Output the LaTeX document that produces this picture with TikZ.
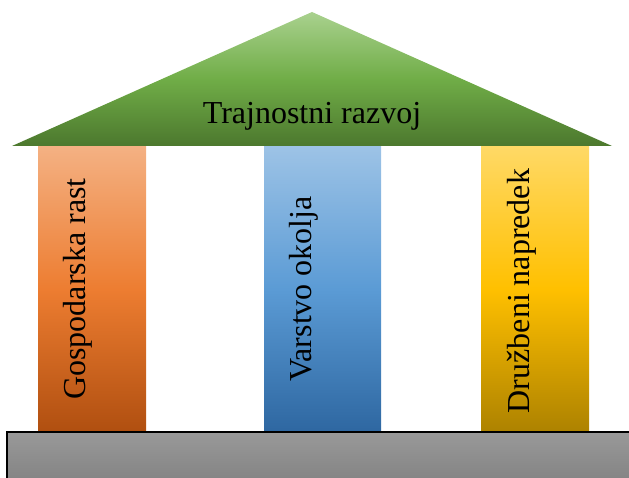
\documentclass[tikz,border=0pt]{standalone}
\usepackage{fontspec}
\setmainfont{Liberation Serif}
\usetikzlibrary{positioning}

\definecolor{roofTop}{HTML}{A9D18E}
\definecolor{roofMid}{HTML}{70AD47}
\definecolor{roofBot}{HTML}{4C782E}
\definecolor{growTop}{HTML}{F4B183}
\definecolor{growMid}{HTML}{ED7D31}
\definecolor{growBot}{HTML}{B04F10}
\definecolor{envTop}{HTML}{9DC3E6}
\definecolor{envMid}{HTML}{5B9BD5}
\definecolor{envBot}{HTML}{2E67A1}
\definecolor{socTop}{HTML}{FFD966}
\definecolor{socMid}{HTML}{FFC000}
\definecolor{socBot}{HTML}{AD8200}

\begin{document}
\begin{tikzpicture}[x=1pt,y=-1pt]
        % temple of sustainable development
        \tikzstyle{pillar} = [rectangle,inner sep=0pt,minimum height=286pt];
        \tikzstyle{caption} = [inner sep=0pt,font=\fontsize{32}{38}\selectfont];

        \useasboundingbox (0,0) rectangle (629,478);
        \clip (0,0) rectangle (629,478);

        \coordinate (apex) at (312,12);
        \coordinate (eaveR) at (612,146);
        \coordinate (eaveL) at (12,146);

        \node[pillar,minimum width=108pt,top color=growTop,bottom color=growBot,middle color=growMid] (growth) at (92,289) {};
        \node[pillar,minimum width=117pt,top color=envTop,bottom color=envBot,middle color=envMid] (environment) at (322.5,289) {};
        \node[pillar,minimum width=108pt,top color=socTop,bottom color=socBot,middle color=socMid] (society) at (535,289) {};

        \node[caption,rotate=90] (growth_text) at (78,289) {Gospodarska rast};
        \node[caption,rotate=90] (environment_text) at (304,289) {Varstvo okolja};
        \node[caption,rotate=90] (society_text) at (522,291) {Družbeni napredek};

        \shade[top color=roofTop,bottom color=roofBot,middle color=roofMid] (apex) -- (eaveR) -- (eaveL) -- cycle;
        \node[caption] (roof_text) at (312,116) {Trajnostni razvoj};

        \shade[draw=black,line width=1.2pt,top color=black!40,bottom color=black!50] (7,432) rectangle (640,490);

    \end{tikzpicture}
\end{document}
